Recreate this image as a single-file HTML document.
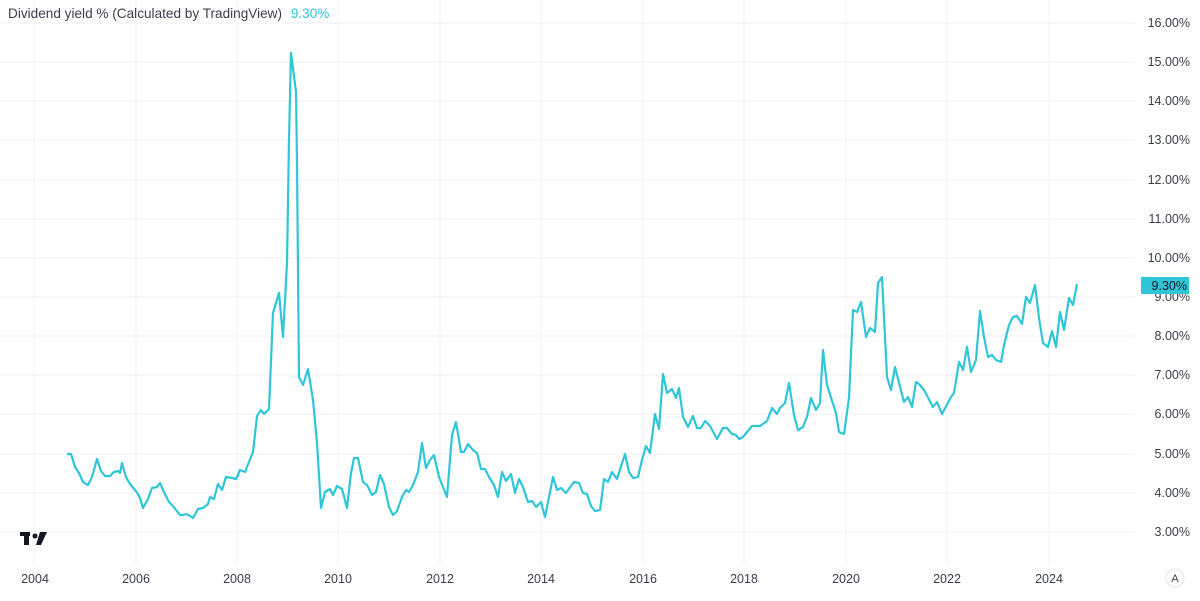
<!DOCTYPE html>
<html><head><meta charset="utf-8"><style>
body{margin:0;background:#fff;width:1200px;height:596px;overflow:hidden;font-family:"Liberation Sans",sans-serif}
</style></head><body>
<svg width="1200" height="596" xmlns="http://www.w3.org/2000/svg" font-family="Liberation Sans, sans-serif">
<g stroke="#f0f1f4" stroke-width="1">
<line x1="0" x2="1135" y1="23" y2="23"/><line x1="0" x2="1135" y1="62" y2="62"/><line x1="0" x2="1135" y1="101" y2="101"/><line x1="0" x2="1135" y1="140" y2="140"/><line x1="0" x2="1135" y1="180" y2="180"/><line x1="0" x2="1135" y1="219" y2="219"/><line x1="0" x2="1135" y1="258" y2="258"/><line x1="0" x2="1135" y1="297" y2="297"/><line x1="0" x2="1135" y1="336" y2="336"/><line x1="0" x2="1135" y1="375" y2="375"/><line x1="0" x2="1135" y1="414" y2="414"/><line x1="0" x2="1135" y1="454" y2="454"/><line x1="0" x2="1135" y1="493" y2="493"/><line x1="0" x2="1135" y1="532" y2="532"/>
<line x1="34" x2="34" y1="0" y2="565"/><line x1="136" x2="136" y1="0" y2="565"/><line x1="237" x2="237" y1="0" y2="565"/><line x1="338" x2="338" y1="0" y2="565"/><line x1="440" x2="440" y1="0" y2="565"/><line x1="541" x2="541" y1="0" y2="565"/><line x1="643" x2="643" y1="0" y2="565"/><line x1="744" x2="744" y1="0" y2="565"/><line x1="846" x2="846" y1="0" y2="565"/><line x1="947" x2="947" y1="0" y2="565"/><line x1="1049" x2="1049" y1="0" y2="565"/>
</g>
<polyline fill="none" stroke="#2fc6d8" stroke-width="2.2" stroke-linejoin="round" points="67,454 71,454 75,467 79,473 83,482 88,485 92,477 97,459 101,471 105,476 110,476 114,472 118,471 120,473 122,463 126,477 130,484 135,490 138,494 140,498 143,508 148,499 152,488 157,487 160,483 164,492 169,502 172,505 176,510 180,515 183,515 186,514 190,516 193,518 198,509 203,508 208,504 210,497 214,499 218,484 222,490 226,477 232,478 236,479 240,470 245,472 249,462 253,452 257,416 261,410 264,414 269,409 273,313 279,293 283,337 287,263 289,140 291,53 296,92 297,163 299,377 303,385 308,369 313,400 317,443 321,508 325,492 330,489 333,495 337,486 342,489 347,508 351,473 354,458 358,458 363,482 367,485 372,495 376,492 380,475 384,484 389,507 393,515 397,511 402,497 406,490 409,492 413,485 418,472 422,443 426,468 430,460 434,455 439,477 443,487 447,497 452,435 456,422 461,452 464,452 468,444 473,450 477,453 481,469 485,469 489,477 494,485 498,497 502,472 506,481 511,474 515,493 519,479 523,487 528,502 532,501 536,507 541,502 545,517 553,477 557,490 561,488 566,493 574,482 579,483 583,493 587,494 591,506 595,511 600,510 604,479 608,482 612,472 617,479 625,454 629,472 633,478 638,477 642,460 646,446 650,453 655,414 659,429 663,374 667,393 672,389 676,398 679,388 683,417 688,427 693,416 697,428 701,428 705,421 710,426 717,439 723,428 727,428 732,434 736,435 739,439 743,437 752,426 760,426 767,421 772,408 777,414 780,408 785,403 789,383 794,415 798,430 803,427 807,417 811,398 816,410 820,403 823,350 827,385 836,413 839,432 844,434 849,398 853,310 857,312 861,302 866,337 870,328 875,332 878,283 882,277 887,377 891,390 895,367 904,402 908,397 912,407 916,382 919,384 924,390 933,407 937,402 942,414 951,397 954,393 959,362 963,370 967,347 971,372 976,360 980,311 984,337 988,357 992,355 996,360 1001,362 1004,345 1009,325 1013,317 1017,316 1022,324 1026,297 1030,303 1035,285 1039,318 1043,343 1048,347 1052,331 1056,347 1060,312 1064,330 1069,298 1073,305 1077,284"/>
<g font-size="12.5" fill="#3a3e4a" text-anchor="end">
<text x="1190" y="27">16.00%</text><text x="1190" y="66">15.00%</text><text x="1190" y="105">14.00%</text><text x="1190" y="144">13.00%</text><text x="1190" y="184">12.00%</text><text x="1190" y="223">11.00%</text><text x="1190" y="262">10.00%</text><text x="1190" y="301">9.00%</text><text x="1190" y="340">8.00%</text><text x="1190" y="379">7.00%</text><text x="1190" y="418">6.00%</text><text x="1190" y="458">5.00%</text><text x="1190" y="497">4.00%</text><text x="1190" y="536">3.00%</text>
</g>
<rect x="1141" y="277" width="48" height="17" fill="#2fc6d8"/>
<text x="1187" y="290" font-size="12.5" fill="#131722" text-anchor="end">9.30%</text>
<g font-size="12.5" fill="#3a3e4a" text-anchor="middle">
<text x="35" y="583">2004</text><text x="136" y="583">2006</text><text x="237" y="583">2008</text><text x="338" y="583">2010</text><text x="440" y="583">2012</text><text x="541" y="583">2014</text><text x="643" y="583">2016</text><text x="744" y="583">2018</text><text x="846" y="583">2020</text><text x="947" y="583">2022</text><text x="1049" y="583">2024</text>
</g>
<text x="8" y="18" font-size="13.6" fill="#3a3e4a">Dividend yield % (Calculated by TradingView) <tspan fill="#2fc6d8" dx="5">9.30%</tspan></text>
<g fill="#131722"><rect x="20" y="532" width="10" height="4"/><rect x="24" y="532" width="5" height="13"/><circle cx="35" cy="536" r="2.5"/><polygon points="40,532 47,532 41,545 36,545"/></g>
<circle cx="1175" cy="578" r="9" fill="#fff" stroke="#e0e3eb"/><text x="1175" y="582" font-size="11" fill="#3a3e4a" text-anchor="middle">A</text>
</svg>
</body></html>
